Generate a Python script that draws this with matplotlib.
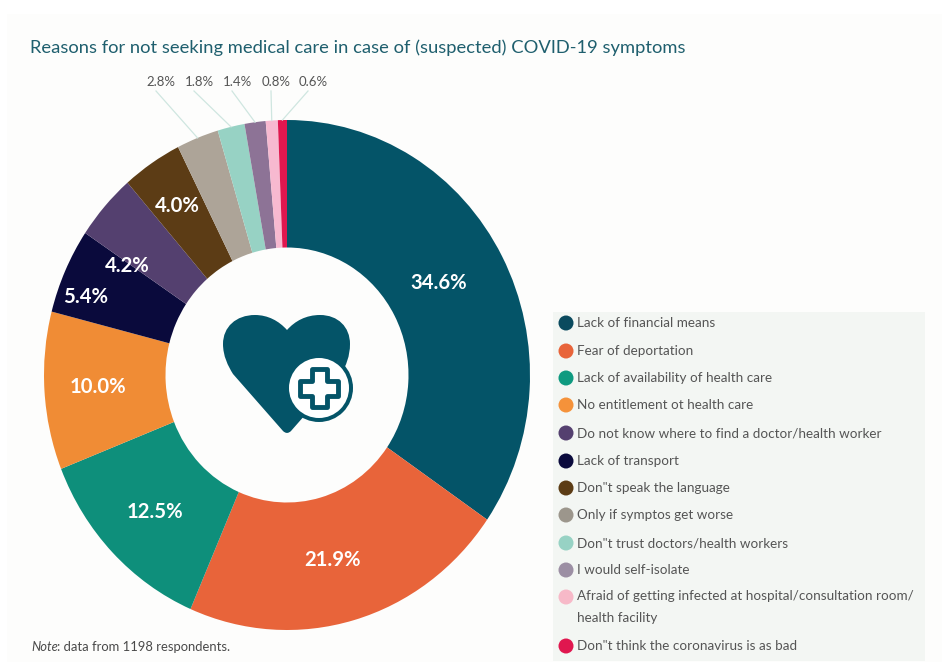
import numpy as np
import matplotlib
matplotlib.use('Agg')
import matplotlib.pyplot as plt
from matplotlib.path import Path
from matplotlib.patches import PathPatch, Circle, Polygon, Rectangle

reasons = [
    'Lack of financial means',
    'Fear of deportation',
    'Lack of availability of health care',
    'No entitlement ot health care',
    'Do not know where to find a doctor/health worker',
    'Lack of transport',
    'Don"t speak the language',
    'Only if symptos get worse',
    'Don"t trust doctors/health workers',
    'I would self-isolate',
    'Afraid of getting infected at hospital/consultation room/\nhealth facility',
    'Don"t think the coronavirus is as bad',
]
shares = [34.6, 21.9, 12.5, 10.0, 5.4, 4.2, 4.0, 2.8, 1.8, 1.4, 0.8, 0.6]
# navy and purple are swapped between the donut and the legend in the source
pie_colors = ['#045468', '#e8643a', '#0e8f7b', '#f08c35', '#0a0a3c', '#54406f',
              '#5c3c15', '#ada498', '#97d2c4', '#8d7396', '#f7b9d0', '#e0174f']
legend_colors = ['#0a4a5e', '#e8643a', '#0e9a80', '#f5923a', '#54406f', '#0a0a3c',
                 '#5c3c15', '#9c968c', '#97d2c4', '#9c8fa4', '#f7b9c8', '#e0174f']
legend_y = [323, 351, 378, 405, 433, 461, 488, 515, 543, 570, 597, 646]
label_nudge = [(-14, 1), (-6, 4), (2, 0), (-2, 0), (-31, -2), (-19, -21), (-5, 6)]
small_label_x = [161, 199, 237, 276, 313]

plt.rcParams['font.family'] = ['Lato', 'DejaVu Sans']
W, H = 942, 662
fig = plt.figure(figsize=(W / 100, H / 100), dpi=100, facecolor='white')

# pale page behind everything, the screenshot has a white margin
bg = fig.add_axes([0, 0, 1, 1], facecolor='none')
bg.set_xlim(0, W)
bg.set_ylim(H, 0)
bg.axis('off')
bg.add_patch(Rectangle((7, 14), W - 7, H - 14, facecolor='#fdfdfc', edgecolor='none'))

# the source image is stretched, so the donut is a bit taller than wide
cx, cy, rx, ry = 287, 375, 243, 255
pie_ax = fig.add_axes([(cx - rx) / W, 1 - (cy + ry) / H, 2 * rx / W, 2 * ry / H])
wedges, _ = pie_ax.pie(shares, colors=pie_colors, startangle=90, counterclock=False, radius=1,
                       wedgeprops=dict(width=0.5, linewidth=0))
pie_ax.set_aspect('auto')
pie_ax.set_xlim(-1, 1)
pie_ax.set_ylim(-1, 1)

for w, val, nudge in zip(wedges[:7], shares[:7], label_nudge):
    a = np.deg2rad((w.theta1 + w.theta2) / 2)
    pie_ax.annotate(f'{val:.1f}%', (0.77 * np.cos(a), 0.77 * np.sin(a)), xytext=nudge,
                    textcoords='offset pixels', color='white', fontsize=14.6,
                    fontweight='bold', ha='center', va='center')

# overlay in pixel coordinates
ax = fig.add_axes([0, 0, 1, 1], facecolor='none')
ax.set_xlim(0, W)
ax.set_ylim(H, 0)
ax.axis('off')

ax.text(30, 48, 'Reasons for not seeking medical care in case of (suspected) COVID-19 symptoms',
        color='#1f5f6e', fontsize=13.2, va='center')
ax.text(31, 647, 'Note', color='#4a4a4a', fontsize=9.4, style='italic', va='center')
ax.text(57, 647, ': data from 1198 respondents.', color='#4a4a4a', fontsize=9.4, va='center')

# small outer labels with leader lines
for w, val, lx in zip(wedges[7:], shares[7:], small_label_x):
    ax.text(lx, 82, f'{val:.1f}%', color='#555555', fontsize=9.5, ha='center', va='center')
    a = np.deg2rad((w.theta1 + w.theta2) / 2)
    ax.plot([lx - 5, cx + rx * np.cos(a)], [91, cy - ry * np.sin(a)], color='#cfe6e0', lw=0.9)

# heart icon
teal = '#045468'
heart_verts = [(287, 330), (279, 321), (268, 315), (255, 315), (236, 315), (223, 327), (223, 344),
               (223, 356), (228, 366), (233, 374), (283, 431), (287, 435), (291, 431), (341, 374),
               (346, 366), (350, 356), (350, 344), (350, 327), (338, 315), (320, 315),
               (306, 315), (295, 321), (287, 330)]
heart_codes = [Path.MOVETO] + [Path.CURVE4] * 9 + [Path.LINETO, Path.CURVE3, Path.CURVE3, Path.LINETO] + [Path.CURVE4] * 9
ax.add_patch(PathPatch(Path(heart_verts, heart_codes), facecolor=teal, edgecolor='none'))
ax.add_patch(Circle((319, 388), 34, facecolor=teal, edgecolor='none'))
ax.add_patch(Circle((319, 388), 30, facecolor='white', edgecolor='none'))
px, py, a, b = 319, 388, 7.5, 19
cross = [(px - a, py - b), (px + a, py - b), (px + a, py - a), (px + b, py - a), (px + b, py + a),
         (px + a, py + a), (px + a, py + b), (px - a, py + b), (px - a, py + a), (px - b, py + a),
         (px - b, py - a), (px - a, py - a)]
ax.add_patch(Polygon(cross, closed=True, facecolor='white', edgecolor=teal, lw=3.5, joinstyle='round'))

# legend
ax.add_patch(Rectangle((553, 312), 372, 349, facecolor='#f3f6f3', edgecolor='none'))
for name, col, y in zip(reasons, legend_colors, legend_y):
    ax.add_patch(Circle((566, y), 7.5, facecolor=col, edgecolor='none'))
    if '\n' in name:
        ax.text(577, y - 7, name, color='#555555', fontsize=9.75, va='top', linespacing=1.95)
    else:
        ax.text(577, y, name, color='#555555', fontsize=9.75, va='center')

fig.savefig('out.png', dpi=100, facecolor=fig.get_facecolor())
